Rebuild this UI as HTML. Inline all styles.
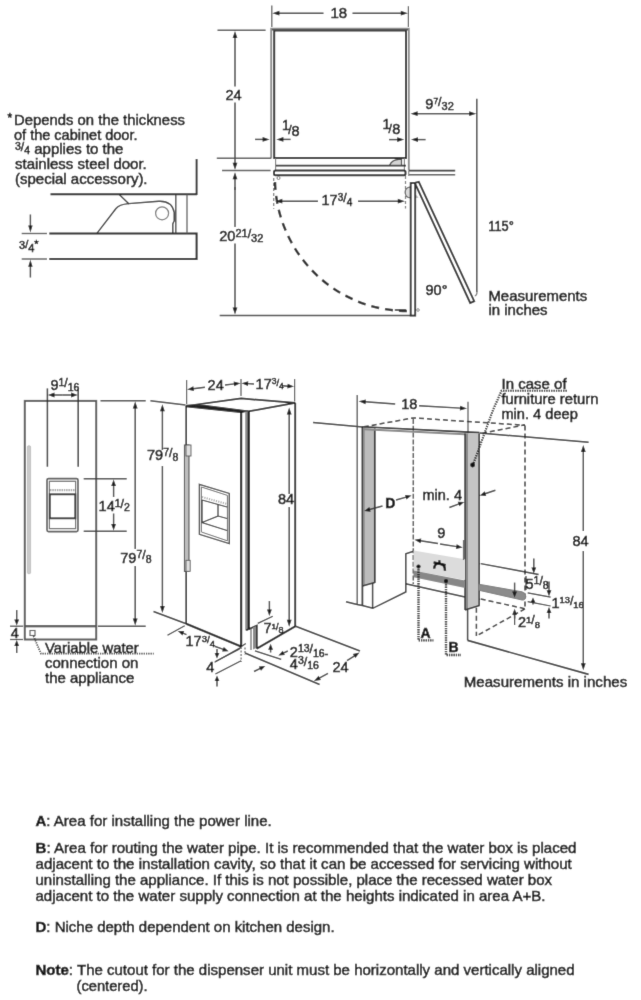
<!DOCTYPE html>
<html><head><meta charset="utf-8"><style>
html,body{margin:0;padding:0;background:#fff;}
svg{display:block;font-family:"Liberation Sans", sans-serif;}
text{fill:#111;stroke:#161616;stroke-width:0.5px;paint-order:stroke;}
</style></head><body>
<svg width="641" height="1000" viewBox="0 0 641 1000">
<defs><filter id="soft" x="0" y="0" width="641" height="1000" filterUnits="userSpaceOnUse"><feConvolveMatrix order="3" kernelMatrix="1 8 1 8 64 8 1 8 1" divisor="100" edgeMode="duplicate"/></filter></defs>
<rect width="641" height="1000" fill="#fff"/>
<g filter="url(#soft)">
<rect width="641" height="1000" fill="#fff"/>
<text x="7.5" y="122" font-size="12" font-weight="normal" fill="#262626" text-anchor="start" >*</text>
<text x="14" y="125" font-size="15" font-weight="normal" fill="#262626" text-anchor="start" textLength="171" lengthAdjust="spacingAndGlyphs" >Depends on the thickness</text>
<text x="14" y="139.5" font-size="15" font-weight="normal" fill="#262626" text-anchor="start" textLength="123.5" lengthAdjust="spacingAndGlyphs" >of the cabinet door.</text>
<text x="15" y="154" font-size="15" fill="#262626"><tspan font-size="10.5" dy="-4">3</tspan><tspan font-size="12" dy="1">/</tspan><tspan font-size="10.5" dy="3">4</tspan><tspan dy="0"> applies to the</tspan></text>
<text x="15" y="168.7" font-size="15" font-weight="normal" fill="#262626" text-anchor="start" >stainless steel door.</text>
<text x="15" y="183.5" font-size="15" font-weight="normal" fill="#262626" text-anchor="start" >(special accessory).</text>
<line x1="50.5" y1="194.3" x2="197" y2="194.3" stroke="#262626" stroke-width="1.88" stroke-linecap="butt"/>
<line x1="196.6" y1="159" x2="196.6" y2="195" stroke="#262626" stroke-width="1.88" stroke-linecap="butt"/>
<path d="M49.3,233.4 L196.6,233.4 L196.6,259.1 L49.3,259.1" stroke="#262626" stroke-width="2.00" fill="none" />
<line x1="21.7" y1="233.5" x2="47" y2="233.5" stroke="#555" stroke-width="1.38" stroke-linecap="butt"/>
<line x1="21.7" y1="259" x2="47" y2="259" stroke="#555" stroke-width="1.38" stroke-linecap="butt"/>
<line x1="30.4" y1="214.5" x2="30.4" y2="226.1" stroke="#3c3c3c" stroke-width="1.44" stroke-linecap="butt"/>
<polygon points="30.40,232.60 28.20,225.60 32.60,225.60" fill="#1a1a1a"/>
<line x1="30.4" y1="277.5" x2="30.4" y2="266.3" stroke="#3c3c3c" stroke-width="1.44" stroke-linecap="butt"/>
<polygon points="30.40,259.80 32.60,266.80 28.20,266.80" fill="#1a1a1a"/>
<text x="19" y="248.5" font-size="11" fill="#262626">3<tspan font-size="11" dy="-0.5">/</tspan><tspan font-size="11" dy="3.5">4</tspan><tspan font-size="11" dy="-4">*</tspan></text>
<line x1="175.8" y1="194.3" x2="175.8" y2="233.4" stroke="#444" stroke-width="1.38" stroke-linecap="butt"/>
<line x1="187" y1="194.3" x2="187" y2="233.4" stroke="#666" stroke-width="1.38" stroke-linecap="butt"/>
<path d="M96.9,233.4 L116,208.5 Q119,204.5 128.6,203.6 L158.6,201.3 Q172,200.5 174.2,212.5 L174.2,221 Q173,223 172.8,224 L172.8,233.4" stroke="#333" stroke-width="1.38" fill="none" />
<line x1="119.2" y1="194.4" x2="129.1" y2="203.9" stroke="#333" stroke-width="1.38" stroke-linecap="butt"/>
<circle cx="162.1" cy="213.3" r="6.5" fill="none" stroke="#777" stroke-width="1.25"/>
<path d="M271.2,158.6 L271.2,28.8 L408.8,28.8 L408.8,170.2" stroke="#8a8a8a" stroke-width="1.88" fill="none" />
<path d="M274.2,158.1 L274.2,30.6 L406,30.6 L406,158.1 Z" stroke="#2a2a2a" stroke-width="2.00" fill="none" />
<line x1="272" y1="29.8" x2="408" y2="29.8" stroke="#555" stroke-width="1.50" stroke-linecap="butt"/>
<line x1="271.8" y1="5.6" x2="271.8" y2="27" stroke="#555" stroke-width="1.25" stroke-linecap="butt"/>
<line x1="408.4" y1="6.2" x2="408.4" y2="27" stroke="#555" stroke-width="1.25" stroke-linecap="butt"/>
<line x1="323.5" y1="13.2" x2="278.9" y2="13.2" stroke="#3c3c3c" stroke-width="1.44" stroke-linecap="butt"/>
<polygon points="272.40,13.20 279.40,10.80 279.40,15.60" fill="#1a1a1a"/>
<line x1="352.5" y1="13.2" x2="401.3" y2="13.2" stroke="#3c3c3c" stroke-width="1.44" stroke-linecap="butt"/>
<polygon points="407.80,13.20 400.80,15.60 400.80,10.80" fill="#1a1a1a"/>
<text x="330.5" y="18.2" font-size="15" font-weight="normal" fill="#262626" text-anchor="start" >18</text>
<line x1="217.5" y1="30.3" x2="265.6" y2="30.3" stroke="#555" stroke-width="1.38" stroke-linecap="butt"/>
<line x1="235" y1="86.5" x2="235.0" y2="37.4" stroke="#3c3c3c" stroke-width="1.44" stroke-linecap="butt"/>
<polygon points="235.00,30.90 237.40,37.90 232.60,37.90" fill="#1a1a1a"/>
<line x1="235" y1="102.5" x2="235.0" y2="163.3" stroke="#3c3c3c" stroke-width="1.44" stroke-linecap="butt"/>
<polygon points="235.00,169.80 232.60,162.80 237.40,162.80" fill="#1a1a1a"/>
<text x="233.5" y="99.7" font-size="14.5" font-weight="normal" fill="#262626" text-anchor="middle" >24</text>
<line x1="216.8" y1="158.2" x2="271" y2="158.2" stroke="#555" stroke-width="1.38" stroke-linecap="butt"/>
<line x1="222" y1="170.5" x2="270.6" y2="170.5" stroke="#555" stroke-width="1.38" stroke-linecap="butt"/>
<line x1="235" y1="190" x2="235.0" y2="178.8" stroke="#3c3c3c" stroke-width="1.44" stroke-linecap="butt"/>
<polygon points="235.00,172.30 237.40,179.30 232.60,179.30" fill="#1a1a1a"/>
<line x1="235" y1="187" x2="235" y2="227" stroke="#262626" stroke-width="1.25" stroke-linecap="butt"/>
<line x1="235" y1="243.5" x2="235.0" y2="308.1" stroke="#3c3c3c" stroke-width="1.44" stroke-linecap="butt"/>
<polygon points="235.00,314.60 232.60,307.60 237.40,307.60" fill="#1a1a1a"/>
<text x="219.3" y="241.4" font-size="14.5" fill="#262626">20<tspan font-size="11" dy="-4.5">21</tspan><tspan font-size="12.3" dy="1.3">/</tspan><tspan font-size="11" dy="3.6">32</tspan></text>
<line x1="219.7" y1="315.4" x2="410" y2="315.4" stroke="#444" stroke-width="1.50" stroke-linecap="butt"/>
<text x="282" y="130.2" font-size="14" fill="#262626">1</text><text x="288.3" y="134" font-size="12" fill="#262626">/</text><text x="291.6" y="135.6" font-size="14.5" fill="#262626">8</text>
<line x1="255" y1="139.4" x2="263.1" y2="139.4" stroke="#3c3c3c" stroke-width="1.44" stroke-linecap="butt"/>
<polygon points="269.60,139.40 262.60,141.80 262.60,137.00" fill="#1a1a1a"/>
<line x1="290.6" y1="139.4" x2="282.9" y2="139.4" stroke="#3c3c3c" stroke-width="1.44" stroke-linecap="butt"/>
<polygon points="276.40,139.40 283.40,137.00 283.40,141.80" fill="#1a1a1a"/>
<text x="382.6" y="129" font-size="14" fill="#262626">1</text><text x="388.6" y="133" font-size="12" fill="#262626">/</text><text x="392.2" y="134.4" font-size="14.5" fill="#262626">8</text>
<line x1="389" y1="139.6" x2="397.7" y2="139.6" stroke="#3c3c3c" stroke-width="1.44" stroke-linecap="butt"/>
<polygon points="404.20,139.60 397.20,142.00 397.20,137.20" fill="#1a1a1a"/>
<line x1="425.6" y1="139.6" x2="417.5" y2="139.6" stroke="#3c3c3c" stroke-width="1.44" stroke-linecap="butt"/>
<polygon points="411.00,139.60 418.00,137.20 418.00,142.00" fill="#1a1a1a"/>
<line x1="275.6" y1="158.1" x2="275.6" y2="170.4" stroke="#777" stroke-width="1.12" stroke-linecap="butt"/>
<line x1="404.4" y1="158.1" x2="404.4" y2="170.4" stroke="#777" stroke-width="1.12" stroke-linecap="butt"/>
<line x1="276" y1="165.6" x2="406" y2="165.6" stroke="#333" stroke-width="1.62" stroke-linecap="butt"/>
<rect x="274" y="170.6" width="131.5" height="4.6" rx="1.5" fill="none" stroke="#2a2a2a" stroke-width="2.00"/>
<path d="M389.6,165.3 Q392,159.6 399,159.4 L401.5,159.4 L401.5,165.3 Z" stroke="#444" stroke-width="1.25" fill="#d4d4d4" />
<line x1="409" y1="170.6" x2="455.2" y2="170.6" stroke="#333" stroke-width="1.62" stroke-linecap="butt"/>
<line x1="409" y1="174.8" x2="455.2" y2="174.8" stroke="#555" stroke-width="1.38" stroke-linecap="butt"/>
<line x1="408.7" y1="170.2" x2="408.7" y2="176" stroke="#888" stroke-width="1.25" stroke-linecap="butt"/>
<line x1="476.8" y1="98.7" x2="476.8" y2="292" stroke="#444" stroke-width="1.50" stroke-linecap="butt"/>
<line x1="440" y1="113.7" x2="417.1" y2="113.7" stroke="#3c3c3c" stroke-width="1.44" stroke-linecap="butt"/>
<polygon points="410.60,113.70 417.60,111.30 417.60,116.10" fill="#1a1a1a"/>
<line x1="440" y1="113.7" x2="469.7" y2="113.7" stroke="#3c3c3c" stroke-width="1.44" stroke-linecap="butt"/>
<polygon points="476.20,113.70 469.20,116.10 469.20,111.30" fill="#1a1a1a"/>
<text x="425.3" y="109" font-size="14.5" fill="#262626">9<tspan font-size="8.5" dy="-5">7</tspan><tspan font-size="12.3" dy="1.5">/</tspan><tspan font-size="11" dy="4.0">32</tspan></text>
<line x1="273.7" y1="178" x2="273.7" y2="208.7" stroke="#777" stroke-width="1.25" stroke-linecap="butt" stroke-dasharray="3,2"/>
<line x1="405.5" y1="176" x2="405.5" y2="208.4" stroke="#777" stroke-width="1.25" stroke-linecap="butt" stroke-dasharray="3,2"/>
<line x1="318" y1="201.2" x2="281.8" y2="201.2" stroke="#3c3c3c" stroke-width="1.44" stroke-linecap="butt"/>
<polygon points="275.30,201.20 282.30,198.80 282.30,203.60" fill="#1a1a1a"/>
<line x1="358" y1="201.2" x2="398.3" y2="201.2" stroke="#3c3c3c" stroke-width="1.44" stroke-linecap="butt"/>
<polygon points="404.80,201.20 397.80,203.60 397.80,198.80" fill="#1a1a1a"/>
<text x="321.5" y="205.2" font-size="14.5" fill="#262626">17<tspan font-size="10" dy="-4.5">3</tspan><tspan font-size="12.3" dy="1.3">/</tspan><tspan font-size="10" dy="3.6">4</tspan></text>
<path d="M275,182 A132,133 0 0 0 407.3,311" stroke="#2a2a2a" stroke-width="2.38" fill="none" stroke-dasharray="8,6" />
<circle cx="278.5" cy="178" r="1.5" fill="none" stroke="#777" stroke-width="1.00"/>
<path d="M410.5,186.8 Q405,187.5 405.2,192.5 Q405.5,197.8 410.5,197.8 Z" stroke="#666" stroke-width="1.25" fill="#dcdcdc" />
<polygon points="415.2,194 418.6,197.5 415.2,198.5" fill="#bbb" stroke="none" stroke-width="1.25"/>
<rect x="410.7" y="183" width="4.5" height="132.6" fill="white" stroke="#2a2a2a" stroke-width="1.88"/>
<polygon points="414.8,182.9 418.8,181.8 474.2,301.2 470.2,303" fill="white" stroke="#2a2a2a" stroke-width="1.88"/>
<path d="M477,291.5 Q477,295.5 474.8,295.8" stroke="#777" stroke-width="1.25" fill="none" />
<line x1="394.8" y1="310" x2="406" y2="310" stroke="#333" stroke-width="1.62" stroke-linecap="butt"/>
<circle cx="418" cy="310" r="1.3" fill="none" stroke="#888" stroke-width="1.00"/>
<text x="425.5" y="294.5" font-size="14.5" font-weight="normal" fill="#262626" text-anchor="start" >90°</text>
<text x="488.3" y="231.4" font-size="14.5" font-weight="normal" fill="#262626" text-anchor="start" textLength="25.6" lengthAdjust="spacingAndGlyphs" >115°</text>
<text x="488.4" y="300.8" font-size="15" font-weight="normal" fill="#262626" text-anchor="start" textLength="98.8" lengthAdjust="spacingAndGlyphs" >Measurements</text>
<text x="488.4" y="314.6" font-size="15" font-weight="normal" fill="#262626" text-anchor="start" >in inches</text>
<text x="35.5" y="826.1" font-size="15" fill="#262626" textLength="236.2" lengthAdjust="spacingAndGlyphs"><tspan font-weight="bold">A</tspan>: Area for installing the power line.</text>
<text x="35.5" y="853.2" font-size="15" fill="#262626" textLength="541" lengthAdjust="spacingAndGlyphs"><tspan font-weight="bold">B</tspan>: Area for routing the water pipe. It is recommended that the water box is placed</text>
<text x="35.5" y="869.2" font-size="15" fill="#262626" textLength="536.3" lengthAdjust="spacingAndGlyphs">adjacent to the installation cavity, so that it can be accessed for servicing without</text>
<text x="35.5" y="885.2" font-size="15" fill="#262626" textLength="516.6" lengthAdjust="spacingAndGlyphs">uninstalling the appliance. If this is not possible, place the recessed water box</text>
<text x="35.5" y="901.2" font-size="15" fill="#262626" textLength="510" lengthAdjust="spacingAndGlyphs">adjacent to the water supply connection at the heights indicated in area A+B.</text>
<text x="35.5" y="931.5" font-size="15" fill="#262626" textLength="299.1" lengthAdjust="spacingAndGlyphs"><tspan font-weight="bold">D</tspan>: Niche depth dependent on kitchen design.</text>
<text x="35.5" y="974.6" font-size="15" fill="#262626" textLength="539.1" lengthAdjust="spacingAndGlyphs"><tspan font-weight="bold">Note</tspan>: The cutout for the dispenser unit must be horizontally and vertically aligned</text>
<text x="76.5" y="990.7" font-size="15" fill="#262626" textLength="71.1" lengthAdjust="spacingAndGlyphs">(centered).</text>
<rect x="27.4" y="445.7" width="3.2" height="128" rx="1.2" fill="#cacaca" stroke="#b0b0b0" stroke-width="0.62"/>
<rect x="24.8" y="400.9" width="71.4" height="225.3" fill="none" stroke="#5a5a5a" stroke-width="2.00"/>
<rect x="24.8" y="626.2" width="71.4" height="13.3" fill="none" stroke="#5a5a5a" stroke-width="2.00"/>
<line x1="47.4" y1="388.4" x2="47.4" y2="466.7" stroke="#333" stroke-width="1.50" stroke-linecap="butt"/>
<line x1="78.2" y1="388.4" x2="78.2" y2="466.7" stroke="#333" stroke-width="1.50" stroke-linecap="butt"/>
<line x1="62.8" y1="395" x2="54.0" y2="395.0" stroke="#3c3c3c" stroke-width="1.44" stroke-linecap="butt"/>
<polygon points="48.00,395.00 54.50,392.60 54.50,397.40" fill="#1a1a1a"/>
<line x1="62.8" y1="395" x2="71.6" y2="395.0" stroke="#3c3c3c" stroke-width="1.44" stroke-linecap="butt"/>
<polygon points="77.60,395.00 71.10,397.40 71.10,392.60" fill="#1a1a1a"/>
<text x="50.4" y="390" font-size="14.5" fill="#262626">9<tspan font-size="10.5" dy="-4">1</tspan><tspan font-size="12.3" dy="1.2">/</tspan><tspan font-size="10.5" dy="3.3">16</tspan></text>
<rect x="47" y="478.6" width="31" height="53" rx="1.5" fill="none" stroke="#5a5a5a" stroke-width="1.62"/>
<rect x="49.4" y="481.3" width="26.2" height="47.3" fill="none" stroke="#6a6a6a" stroke-width="1.25"/>
<line x1="50" y1="490.2" x2="75" y2="490.2" stroke="#aaa" stroke-width="2.25" stroke-linecap="butt" stroke-dasharray="1.5,0.8"/>
<rect x="49.8" y="494.3" width="25.5" height="24" fill="none" stroke="#333" stroke-width="1.88"/>
<line x1="83.7" y1="478.7" x2="126.7" y2="478.7" stroke="#444" stroke-width="1.38" stroke-linecap="butt"/>
<line x1="83.7" y1="531.2" x2="126.7" y2="531.2" stroke="#444" stroke-width="1.38" stroke-linecap="butt"/>
<line x1="113.6" y1="497" x2="113.6" y2="485.4" stroke="#3c3c3c" stroke-width="1.44" stroke-linecap="butt"/>
<polygon points="113.60,479.40 116.00,485.90 111.20,485.90" fill="#1a1a1a"/>
<line x1="113.6" y1="513.5" x2="113.6" y2="524.5" stroke="#3c3c3c" stroke-width="1.44" stroke-linecap="butt"/>
<polygon points="113.60,530.50 111.20,524.00 116.00,524.00" fill="#1a1a1a"/>
<text x="98.6" y="510.6" font-size="14.5" fill="#262626">14<tspan font-size="10.5" dy="-4">1</tspan><tspan font-size="12.3" dy="1.2">/</tspan><tspan font-size="10.5" dy="3.3">2</tspan></text>
<line x1="100.5" y1="400.7" x2="145.7" y2="400.7" stroke="#444" stroke-width="1.38" stroke-linecap="butt"/>
<line x1="98" y1="626.3" x2="145.7" y2="626.3" stroke="#444" stroke-width="1.38" stroke-linecap="butt"/>
<line x1="135.2" y1="549" x2="135.2" y2="407.9" stroke="#3c3c3c" stroke-width="1.44" stroke-linecap="butt"/>
<polygon points="135.20,401.40 137.60,408.40 132.80,408.40" fill="#1a1a1a"/>
<line x1="135.2" y1="566" x2="135.2" y2="619.1" stroke="#3c3c3c" stroke-width="1.44" stroke-linecap="butt"/>
<polygon points="135.20,625.60 132.80,618.60 137.60,618.60" fill="#1a1a1a"/>
<text x="120.3" y="562.6" font-size="14.5" fill="#262626">79<tspan font-size="10.5" dy="-4.5">7</tspan><tspan font-size="12.3" dy="1.3">/</tspan><tspan font-size="10.5" dy="3.6">8</tspan></text>
<line x1="10" y1="626.2" x2="23" y2="626.2" stroke="#444" stroke-width="1.25" stroke-linecap="butt"/>
<line x1="10" y1="639.5" x2="23" y2="639.5" stroke="#444" stroke-width="1.25" stroke-linecap="butt"/>
<line x1="16.7" y1="610" x2="16.7" y2="620.1" stroke="#3c3c3c" stroke-width="1.44" stroke-linecap="butt"/>
<polygon points="16.70,625.60 14.30,619.60 19.10,619.60" fill="#1a1a1a"/>
<line x1="16.7" y1="653" x2="16.7" y2="645.6" stroke="#3c3c3c" stroke-width="1.44" stroke-linecap="butt"/>
<polygon points="16.70,640.10 19.10,646.10 14.30,646.10" fill="#1a1a1a"/>
<text x="10.8" y="638.2" font-size="14.5" font-weight="normal" fill="#262626" text-anchor="start" >4</text>
<rect x="30" y="630.5" width="5" height="5" fill="none" stroke="#555" stroke-width="1.12"/>
<path d="M33.5,636 L41,653.7 L153.7,653.7" stroke="#333" stroke-width="1.75" fill="none" stroke-dasharray="1.2,1.1" />
<text x="45" y="652.5" font-size="15" font-weight="normal" fill="#262626" text-anchor="start" textLength="93.7" lengthAdjust="spacingAndGlyphs" >Variable water</text>
<text x="45" y="668" font-size="15" font-weight="normal" fill="#262626" text-anchor="start" >connection on</text>
<text x="45" y="682.6" font-size="15" font-weight="normal" fill="#262626" text-anchor="start" >the appliance</text>
<line x1="150.4" y1="400.7" x2="185.5" y2="405" stroke="#444" stroke-width="1.38" stroke-linecap="butt"/>
<line x1="162.4" y1="450" x2="162.4" y2="410.7" stroke="#3c3c3c" stroke-width="1.44" stroke-linecap="butt"/>
<polygon points="162.40,404.20 164.80,411.20 160.00,411.20" fill="#1a1a1a"/>
<line x1="162.4" y1="466" x2="162.4" y2="606.5" stroke="#3c3c3c" stroke-width="1.44" stroke-linecap="butt"/>
<polygon points="162.40,613.00 160.00,606.00 164.80,606.00" fill="#1a1a1a"/>
<text x="147" y="460.3" font-size="14.5" fill="#262626">79<tspan font-size="10.5" dy="-4.5">7</tspan><tspan font-size="12.3" dy="1.3">/</tspan><tspan font-size="10.5" dy="3.6">8</tspan></text>
<line x1="153.5" y1="611.5" x2="186.2" y2="623.7" stroke="#333" stroke-width="1.50" stroke-linecap="butt"/>
<path d="M186.2,406 L241.2,398.5 L295.2,402.8 L248.3,411.4" stroke="#222" stroke-width="1.75" fill="none" />
<polygon points="186.2,405.2 205,405.4 248.3,411 241.2,412.6 186.2,406.8" fill="#222" stroke="#222" stroke-width="1.00"/>
<line x1="186.2" y1="406" x2="186.2" y2="445" stroke="#222" stroke-width="1.62" stroke-linecap="butt"/>
<line x1="186.2" y1="571" x2="186.2" y2="623.7" stroke="#222" stroke-width="1.62" stroke-linecap="butt"/>
<line x1="241.1" y1="411.8" x2="241.1" y2="646.5" stroke="#1e1e1e" stroke-width="2.25" stroke-linecap="butt"/>
<line x1="186.2" y1="623.7" x2="241.1" y2="646.5" stroke="#222" stroke-width="2.12" stroke-linecap="butt"/>
<rect x="184.4" y="445" width="4.6" height="126.5" fill="#bdbdbd" stroke="#444" stroke-width="1.00"/>
<rect x="186" y="445" width="5" height="11" fill="#e0e0e0" stroke="#555" stroke-width="0.88"/>
<rect x="186" y="560.3" width="4.2" height="11" fill="#e0e0e0" stroke="#555" stroke-width="0.88"/>
<polygon points="199.4,484.3 229.3,493.4 229.3,543.6 199.4,534.3" fill="none" stroke="#444" stroke-width="1.38"/>
<polygon points="201.4,487 227.4,495.4 227.4,540.8 201.4,532" fill="none" stroke="#666" stroke-width="1.00"/>
<line x1="202" y1="497" x2="227" y2="504" stroke="#aaa" stroke-width="2.00" stroke-linecap="butt" stroke-dasharray="1.2,1.2"/>
<line x1="202" y1="500" x2="227" y2="507" stroke="#333" stroke-width="1.25" stroke-linecap="butt"/>
<path d="M202,500 L202,522.5 L227,530.5 M202,522.5 L218,516 L218,504.5 M218,516 L227,518.5" stroke="#333" stroke-width="1.25" fill="none" />
<polygon points="245.2,411.5 248.1,411.5 248.1,630 245.2,630.6" fill="#8c8c8c"/>
<line x1="248.8" y1="411.3" x2="248.8" y2="630" stroke="#1e1e1e" stroke-width="2.25" stroke-linecap="butt"/>
<line x1="295.2" y1="402.8" x2="295.2" y2="626.4" stroke="#222" stroke-width="1.88" stroke-linecap="butt"/>
<path d="M246.2,630.2 L256.8,625.6 L256.8,648.7" stroke="#222" stroke-width="1.75" fill="none" />
<polygon points="253,627.2 256.2,626 256.2,648 253,649.5" fill="#8a8a8a"/>
<line x1="251" y1="628.5" x2="251" y2="650" stroke="#666" stroke-width="1.25" stroke-linecap="butt"/>
<line x1="256.8" y1="648.7" x2="295.6" y2="626.2" stroke="#222" stroke-width="2.00" stroke-linecap="butt"/>
<line x1="295.6" y1="626.2" x2="360" y2="651" stroke="#333" stroke-width="1.62" stroke-linecap="butt"/>
<line x1="245" y1="653" x2="319.6" y2="684.6" stroke="#333" stroke-width="1.62" stroke-linecap="butt"/>
<line x1="255" y1="650.8" x2="281.2" y2="659.4" stroke="#333" stroke-width="1.38" stroke-linecap="butt"/>
<line x1="241.1" y1="647" x2="241.1" y2="662" stroke="#666" stroke-width="1.25" stroke-linecap="butt" stroke-dasharray="2,1.5"/>
<line x1="241.1" y1="646.7" x2="245.8" y2="643.5" stroke="#333" stroke-width="1.25" stroke-linecap="butt"/>
<line x1="245" y1="647.4" x2="245" y2="655" stroke="#666" stroke-width="1.25" stroke-linecap="butt" stroke-dasharray="2,1.5"/>
<line x1="289.2" y1="494" x2="289.2" y2="414.1" stroke="#3c3c3c" stroke-width="1.44" stroke-linecap="butt"/>
<polygon points="289.20,407.60 291.60,414.60 286.80,414.60" fill="#1a1a1a"/>
<line x1="289.2" y1="507" x2="289.2" y2="620.3" stroke="#3c3c3c" stroke-width="1.44" stroke-linecap="butt"/>
<polygon points="289.20,626.80 286.80,619.80 291.60,619.80" fill="#1a1a1a"/>
<text x="278" y="503.7" font-size="14.5" font-weight="normal" fill="#262626" text-anchor="start" >84</text>
<line x1="257.8" y1="623.4" x2="272.8" y2="616.2" stroke="#333" stroke-width="1.25" stroke-linecap="butt"/>
<line x1="269.4" y1="601" x2="269.4" y2="610.0" stroke="#3c3c3c" stroke-width="1.44" stroke-linecap="butt"/>
<polygon points="269.40,616.00 267.00,609.50 271.80,609.50" fill="#1a1a1a"/>
<line x1="270.6" y1="652.5" x2="270.6" y2="649.2" stroke="#3c3c3c" stroke-width="1.44" stroke-linecap="butt"/>
<polygon points="270.60,643.70 273.00,649.70 268.20,649.70" fill="#1a1a1a"/>
<text x="263.6" y="632.8" font-size="14.5" font-weight="normal" fill="#262626" text-anchor="start" >7</text>
<text x="271.5" y="629" font-size="8" fill="#262626">1<tspan font-size="9" dy="1">/</tspan><tspan font-size="9" dy="3">8</tspan></text>
<line x1="186.6" y1="380" x2="186.6" y2="404" stroke="#555" stroke-width="1.25" stroke-linecap="butt"/>
<line x1="241" y1="379" x2="241" y2="396" stroke="#555" stroke-width="1.25" stroke-linecap="butt"/>
<line x1="294.6" y1="379" x2="294.6" y2="401.5" stroke="#555" stroke-width="1.25" stroke-linecap="butt"/>
<line x1="205" y1="387.2" x2="193.15053023752677" y2="388.7311112614432" stroke="#3c3c3c" stroke-width="1.44" stroke-linecap="butt"/>
<polygon points="187.20,389.50 193.34,386.29 193.95,391.05" fill="#1a1a1a"/>
<line x1="225" y1="385" x2="234.44056977117393" y2="383.89655677999264" stroke="#3c3c3c" stroke-width="1.44" stroke-linecap="butt"/>
<polygon points="240.40,383.20 234.22,386.34 233.67,381.57" fill="#1a1a1a"/>
<text x="207.6" y="389.8" font-size="14.5" font-weight="normal" fill="#262626" text-anchor="start" >24</text>
<line x1="254" y1="384" x2="247.59046243577987" y2="383.63817126653595" stroke="#3c3c3c" stroke-width="1.44" stroke-linecap="butt"/>
<polygon points="241.60,383.30 248.22,381.27 247.95,386.06" fill="#1a1a1a"/>
<line x1="283" y1="385.8" x2="288.01580509824726" y2="386.1647858253271" stroke="#3c3c3c" stroke-width="1.44" stroke-linecap="butt"/>
<polygon points="294.00,386.60 287.34,388.52 287.69,383.73" fill="#1a1a1a"/>
<text x="255.6" y="388.8" font-size="14.5" fill="#262626">17<tspan font-size="8.5" dy="-4.5">3</tspan><tspan font-size="9.3" dy="1.3">/</tspan><tspan font-size="8.5" dy="3.6">4</tspan></text>
<line x1="167.5" y1="635.2" x2="184.7" y2="625.8" stroke="#333" stroke-width="1.25" stroke-linecap="butt"/>
<line x1="214.6" y1="662.3" x2="241" y2="647.4" stroke="#333" stroke-width="1.25" stroke-linecap="butt"/>
<line x1="186.5" y1="634.6" x2="182.8820925783204" y2="633.1029348599947" stroke="#3c3c3c" stroke-width="1.44" stroke-linecap="butt"/>
<polygon points="177.80,631.00 184.26,631.08 182.43,635.51" fill="#1a1a1a"/>
<line x1="214.6" y1="646.2" x2="223.43221476510064" y2="649.4174496644295" stroke="#3c3c3c" stroke-width="1.44" stroke-linecap="butt"/>
<polygon points="228.60,651.30 222.14,651.50 223.78,646.99" fill="#1a1a1a"/>
<text x="185.5" y="646.2" font-size="14.5" fill="#262626">17<tspan font-size="9.5" dy="-4.5">3</tspan><tspan font-size="9.8" dy="1.3">/</tspan><tspan font-size="9.5" dy="3.6">4</tspan></text>
<line x1="215.4" y1="661.5" x2="239.6" y2="649" stroke="#333" stroke-width="1.25" stroke-linecap="butt"/>
<line x1="215.4" y1="674" x2="241.1" y2="660.7" stroke="#333" stroke-width="1.25" stroke-linecap="butt"/>
<line x1="217" y1="649" x2="217.0" y2="653.4" stroke="#3c3c3c" stroke-width="1.44" stroke-linecap="butt"/>
<polygon points="217.00,658.40 214.60,652.90 219.40,652.90" fill="#1a1a1a"/>
<line x1="217" y1="686.4" x2="217.0" y2="680.5" stroke="#3c3c3c" stroke-width="1.44" stroke-linecap="butt"/>
<polygon points="217.00,675.50 219.40,681.00 214.60,681.00" fill="#1a1a1a"/>
<text x="206.3" y="671.6" font-size="14.5" font-weight="normal" fill="#262626" text-anchor="start" >4</text>
<line x1="287.8" y1="651" x2="283.34019197126275" y2="653.1824592481055" stroke="#3c3c3c" stroke-width="1.44" stroke-linecap="butt"/>
<polygon points="278.40,655.60 282.73,650.81 284.84,655.12" fill="#1a1a1a"/>
<line x1="254" y1="671.5" x2="260.3719591830406" y2="668.3422149181391" stroke="#3c3c3c" stroke-width="1.44" stroke-linecap="butt"/>
<polygon points="265.30,665.90 260.99,670.71 258.86,666.41" fill="#1a1a1a"/>
<text x="289.8" y="656.5" font-size="14.5" fill="#262626">2<tspan font-size="10.5" dy="-4.5">13</tspan><tspan font-size="12.3" dy="1.3">/</tspan><tspan font-size="10.5" dy="3.6">16-</tspan></text>
<text x="289.8" y="668.8" font-size="14.5" fill="#262626">4<tspan font-size="10.5" dy="-4.5">3</tspan><tspan font-size="12.3" dy="1.3">/</tspan><tspan font-size="10.5" dy="3.6">16</tspan></text>
<line x1="328" y1="673.4" x2="319.2888798201727" y2="678.0666715249074" stroke="#3c3c3c" stroke-width="1.44" stroke-linecap="butt"/>
<polygon points="314.00,680.90 318.60,675.72 320.86,679.95" fill="#1a1a1a"/>
<line x1="347" y1="660.6" x2="354.5347231085132" y2="655.8160488199917" stroke="#3c3c3c" stroke-width="1.44" stroke-linecap="butt"/>
<polygon points="359.60,652.60 355.40,658.11 352.83,654.06" fill="#1a1a1a"/>
<text x="332.5" y="671.5" font-size="14.5" font-weight="normal" fill="#262626" text-anchor="start" >24</text>
<line x1="313" y1="422.6" x2="362.7" y2="427" stroke="#333" stroke-width="1.50" stroke-linecap="butt"/>
<line x1="479.8" y1="433" x2="588.6" y2="442.2" stroke="#333" stroke-width="1.50" stroke-linecap="butt"/>
<line x1="357.2" y1="395" x2="357.2" y2="604.6" stroke="#555" stroke-width="1.38" stroke-linecap="butt"/>
<line x1="468" y1="401.8" x2="468" y2="433.5" stroke="#555" stroke-width="1.25" stroke-linecap="butt"/>
<line x1="395.2" y1="404" x2="365.1822888285185" y2="401.7795117763562" stroke="#3c3c3c" stroke-width="1.44" stroke-linecap="butt"/>
<polygon points="358.70,401.30 365.86,399.42 365.50,404.21" fill="#1a1a1a"/>
<line x1="419" y1="405.7" x2="460.5110308840118" y2="408.1214768015673" stroke="#3c3c3c" stroke-width="1.44" stroke-linecap="butt"/>
<polygon points="467.00,408.50 459.87,410.49 460.15,405.70" fill="#1a1a1a"/>
<text x="401.3" y="409.4" font-size="14.5" font-weight="normal" fill="#262626" text-anchor="start" >18</text>
<path d="M363.8,426.8 L413.4,417.9 L525,425.3" stroke="#333" stroke-width="1.50" fill="none" stroke-dasharray="5,3" />
<line x1="482" y1="433.4" x2="525" y2="424.8" stroke="#333" stroke-width="1.50" stroke-linecap="butt" stroke-dasharray="5,3"/>
<line x1="525" y1="425.4" x2="525" y2="608.8" stroke="#333" stroke-width="1.50" stroke-linecap="butt" stroke-dasharray="5,3"/>
<line x1="413.3" y1="419" x2="413.3" y2="584" stroke="#555" stroke-width="1.50" stroke-linecap="butt" stroke-dasharray="5,1.8"/>
<polygon points="362.5,427.5 374.6,428.5 374.6,582.5 362.5,586" fill="#bcbcbc"/>
<line x1="362.4" y1="427" x2="362.4" y2="605.8" stroke="#333" stroke-width="1.75" stroke-linecap="butt"/>
<line x1="374.8" y1="428.5" x2="374.8" y2="583" stroke="#333" stroke-width="1.75" stroke-linecap="butt"/>
<line x1="363.8" y1="428" x2="363.8" y2="586" stroke="#8a8a8a" stroke-width="1.75" stroke-linecap="butt"/>
<line x1="362.5" y1="586" x2="374.8" y2="582.5" stroke="#333" stroke-width="1.38" stroke-linecap="butt"/>
<line x1="372.6" y1="583" x2="372.6" y2="608.3" stroke="#333" stroke-width="1.50" stroke-linecap="butt"/>
<line x1="362" y1="426.8" x2="479.5" y2="432.6" stroke="#2a2a2a" stroke-width="1.62" stroke-linecap="butt"/>
<line x1="364" y1="429.3" x2="479.5" y2="435" stroke="#8a8a8a" stroke-width="2.00" stroke-linecap="butt"/>
<polygon points="465,433.5 479,433.8 479,605.5 465,610" fill="#c4c4c4"/>
<polygon points="465,433.5 468,433.6 468,609 465,610" fill="#8a8a8a"/>
<line x1="465" y1="433.5" x2="465" y2="610" stroke="#333" stroke-width="1.50" stroke-linecap="butt"/>
<line x1="479.2" y1="433.5" x2="479.2" y2="606" stroke="#333" stroke-width="1.62" stroke-linecap="butt"/>
<line x1="465" y1="610" x2="479.5" y2="605.5" stroke="#333" stroke-width="1.50" stroke-linecap="butt"/>
<path d="M346,601.8 L357.2,604.6 L362.4,605.6 L372.8,608.3 L405.8,592 L405.8,553.7 L413.5,551.2" stroke="#333" stroke-width="1.50" fill="none" />
<line x1="405.6" y1="583.7" x2="465" y2="596.9" stroke="#333" stroke-width="1.50" stroke-linecap="butt"/>
<polygon points="413.5,550.6 465,559.3 465,580 413.5,570.6" fill="#dcdcdc"/>
<polygon points="413.5,570.4 465,580.5 465,588 413.5,577.3" fill="#878787"/>
<path d="M434.3,568.6 Q434,563.4 439.5,563.6 Q445.2,564 445,570.8" stroke="#111" stroke-width="2.38" fill="none" />
<line x1="433.6" y1="562.4" x2="445.6" y2="565.2" stroke="#111" stroke-width="2.50" stroke-linecap="butt"/>
<line x1="439.4" y1="560.2" x2="439.4" y2="564.2" stroke="#111" stroke-width="2.12" stroke-linecap="butt"/>
<circle cx="418.5" cy="566.5" r="2.1" fill="#111"/>
<circle cx="446" cy="581" r="2.1" fill="#111"/>
<path d="M418.5,567 L418.5,640.4 L433.4,640.4" stroke="#1a1a1a" stroke-width="2.38" fill="none" stroke-dasharray="1.3,1.0" />
<path d="M446,582 L446,655 L461,655" stroke="#1a1a1a" stroke-width="2.38" fill="none" stroke-dasharray="1.3,1.0" />
<text x="420.6" y="638.2" font-size="14" font-weight="bold" fill="#262626" text-anchor="start" >A</text>
<text x="448.6" y="651.8" font-size="14" font-weight="bold" fill="#262626" text-anchor="start" >B</text>
<line x1="382.5" y1="506" x2="369.5055314041581" y2="509.5504012556945" stroke="#3c3c3c" stroke-width="1.44" stroke-linecap="butt"/>
<polygon points="364.20,511.00 369.36,507.10 370.62,511.73" fill="#1a1a1a"/>
<line x1="396" y1="500" x2="406.2090497362403" y2="497.1019471716479" stroke="#3c3c3c" stroke-width="1.44" stroke-linecap="butt"/>
<polygon points="411.50,495.60 406.38,499.55 405.07,494.93" fill="#1a1a1a"/>
<text x="385.2" y="508.2" font-size="14" font-weight="bold" fill="#262626" text-anchor="start" >D</text>
<text x="422.5" y="500" font-size="14.5" font-weight="normal" fill="#262626" text-anchor="start" >min. 4</text>
<line x1="449.4" y1="507.5" x2="459.044485934089" y2="503.9159004974669" stroke="#3c3c3c" stroke-width="1.44" stroke-linecap="butt"/>
<polygon points="464.20,502.00 459.41,506.34 457.74,501.84" fill="#1a1a1a"/>
<line x1="495.4" y1="490.3" x2="485.0177581392779" y2="493.76074728690736" stroke="#3c3c3c" stroke-width="1.44" stroke-linecap="butt"/>
<polygon points="479.80,495.50 484.73,491.33 486.25,495.88" fill="#1a1a1a"/>
<line x1="438" y1="543.5" x2="420.4269862186387" y2="540.7331850642112" stroke="#3c3c3c" stroke-width="1.44" stroke-linecap="butt"/>
<polygon points="414.50,539.80 421.29,538.44 420.55,543.18" fill="#1a1a1a"/>
<line x1="440" y1="544" x2="456.7740585704222" y2="546.6602031213005" stroke="#3c3c3c" stroke-width="1.44" stroke-linecap="butt"/>
<polygon points="462.70,547.60 455.90,548.95 456.66,544.21" fill="#1a1a1a"/>
<line x1="463.5" y1="540" x2="463.5" y2="560" stroke="#666" stroke-width="1.25" stroke-linecap="butt"/>
<text x="437.3" y="537.5" font-size="14.5" font-weight="normal" fill="#262626" text-anchor="start" >9</text>
<path d="M472.8,465.4 L493,410 L501.6,390.7 L567,390.7" stroke="#1a1a1a" stroke-width="2.12" fill="none" stroke-dasharray="1.3,1.1" />
<circle cx="472.6" cy="465" r="2.4" fill="#111"/>
<text x="501.6" y="388.6" font-size="14.5" font-weight="normal" fill="#262626" text-anchor="start" textLength="65" lengthAdjust="spacingAndGlyphs" >In case of</text>
<text x="501.4" y="404" font-size="15" font-weight="normal" fill="#262626" text-anchor="start" textLength="97" lengthAdjust="spacingAndGlyphs" >furniture return</text>
<text x="501.4" y="419" font-size="15" font-weight="normal" fill="#262626" text-anchor="start" textLength="76.5" lengthAdjust="spacingAndGlyphs" >min. 4 deep</text>
<line x1="476.4" y1="607.7" x2="476.4" y2="636" stroke="#333" stroke-width="1.50" stroke-linecap="butt" stroke-dasharray="5,3"/>
<line x1="525" y1="608.8" x2="476.4" y2="636" stroke="#333" stroke-width="1.50" stroke-linecap="butt" stroke-dasharray="5,3"/>
<line x1="480.7" y1="599" x2="525.5" y2="608.8" stroke="#333" stroke-width="1.50" stroke-linecap="butt" stroke-dasharray="5,3"/>
<line x1="467.6" y1="610" x2="467.6" y2="640.4" stroke="#333" stroke-width="1.50" stroke-linecap="butt"/>
<line x1="467.6" y1="640.4" x2="588.6" y2="674.4" stroke="#333" stroke-width="1.62" stroke-linecap="butt"/>
<path d="M478.6,584.2 L522,591.8 Q525.8,592.8 525.8,596.2 Q525.8,600.4 522,600 L478.6,590.2 Z" stroke="#7a7a7a" stroke-width="1.00" fill="#8c8c8c" />
<line x1="480.7" y1="563.6" x2="538.6" y2="574.5" stroke="#333" stroke-width="1.38" stroke-linecap="butt"/>
<line x1="526" y1="576" x2="526" y2="590" stroke="#333" stroke-width="1.25" stroke-linecap="butt"/>
<line x1="527.7" y1="592.8" x2="550.6" y2="597.2" stroke="#333" stroke-width="1.25" stroke-linecap="butt"/>
<line x1="527.7" y1="601.6" x2="550.6" y2="606" stroke="#333" stroke-width="1.25" stroke-linecap="butt"/>
<line x1="533.8" y1="558.6" x2="533.8" y2="567.9" stroke="#3c3c3c" stroke-width="1.44" stroke-linecap="butt"/>
<polygon points="533.80,573.40 531.40,567.40 536.20,567.40" fill="#1a1a1a"/>
<line x1="549" y1="581.5" x2="549.0" y2="590.7" stroke="#3c3c3c" stroke-width="1.44" stroke-linecap="butt"/>
<polygon points="549.00,596.20 546.60,590.20 551.40,590.20" fill="#1a1a1a"/>
<line x1="549" y1="618.6" x2="549.0" y2="612.5" stroke="#3c3c3c" stroke-width="1.44" stroke-linecap="butt"/>
<polygon points="549.00,607.00 551.40,613.00 546.60,613.00" fill="#1a1a1a"/>
<line x1="533" y1="604.4" x2="533.0" y2="601.9" stroke="#3c3c3c" stroke-width="1.44" stroke-linecap="butt"/>
<polygon points="533.00,597.40 535.40,602.40 530.60,602.40" fill="#1a1a1a"/>
<line x1="514.6" y1="582.6" x2="514.6" y2="592.0" stroke="#3c3c3c" stroke-width="1.44" stroke-linecap="butt"/>
<polygon points="514.60,597.50 512.20,591.50 517.00,591.50" fill="#1a1a1a"/>
<line x1="514.6" y1="618.6" x2="514.6" y2="614.3" stroke="#3c3c3c" stroke-width="1.44" stroke-linecap="butt"/>
<polygon points="514.60,608.80 517.00,614.80 512.20,614.80" fill="#1a1a1a"/>
<line x1="514.6" y1="612" x2="514.6" y2="625" stroke="#333" stroke-width="1.25" stroke-linecap="butt"/>
<text x="525.5" y="588.5" font-size="14.5" fill="#262626">5<tspan font-size="10.5" dy="-4.5">1</tspan><tspan font-size="12.3" dy="1.3">/</tspan><tspan font-size="10.5" dy="3.6">8</tspan></text>
<text x="551.5" y="607.7" font-size="14.5" fill="#262626">1<tspan font-size="9.3" dy="-4.5">13</tspan><tspan font-size="12.3" dy="1.3">/</tspan><tspan font-size="9.3" dy="3.6">16</tspan></text>
<text x="517.9" y="627.3" font-size="14.5" fill="#262626">2<tspan font-size="9.5" dy="-4.5">1</tspan><tspan font-size="12.3" dy="1.3">/</tspan><tspan font-size="9.5" dy="3.6">8</tspan></text>
<line x1="583.3" y1="531" x2="583.3" y2="451.5" stroke="#3c3c3c" stroke-width="1.44" stroke-linecap="butt"/>
<polygon points="583.30,445.00 585.70,452.00 580.90,452.00" fill="#1a1a1a"/>
<line x1="583.3" y1="551" x2="583.3" y2="663.8" stroke="#3c3c3c" stroke-width="1.44" stroke-linecap="butt"/>
<polygon points="583.30,670.30 580.90,663.30 585.70,663.30" fill="#1a1a1a"/>
<text x="572.4" y="546.2" font-size="14.5" font-weight="normal" fill="#262626" text-anchor="start" >84</text>
<text x="463.8" y="687.2" font-size="15" font-weight="normal" fill="#262626" text-anchor="start" textLength="163.4" lengthAdjust="spacingAndGlyphs" >Measurements in inches</text>
</g>
</svg>
</body></html>
